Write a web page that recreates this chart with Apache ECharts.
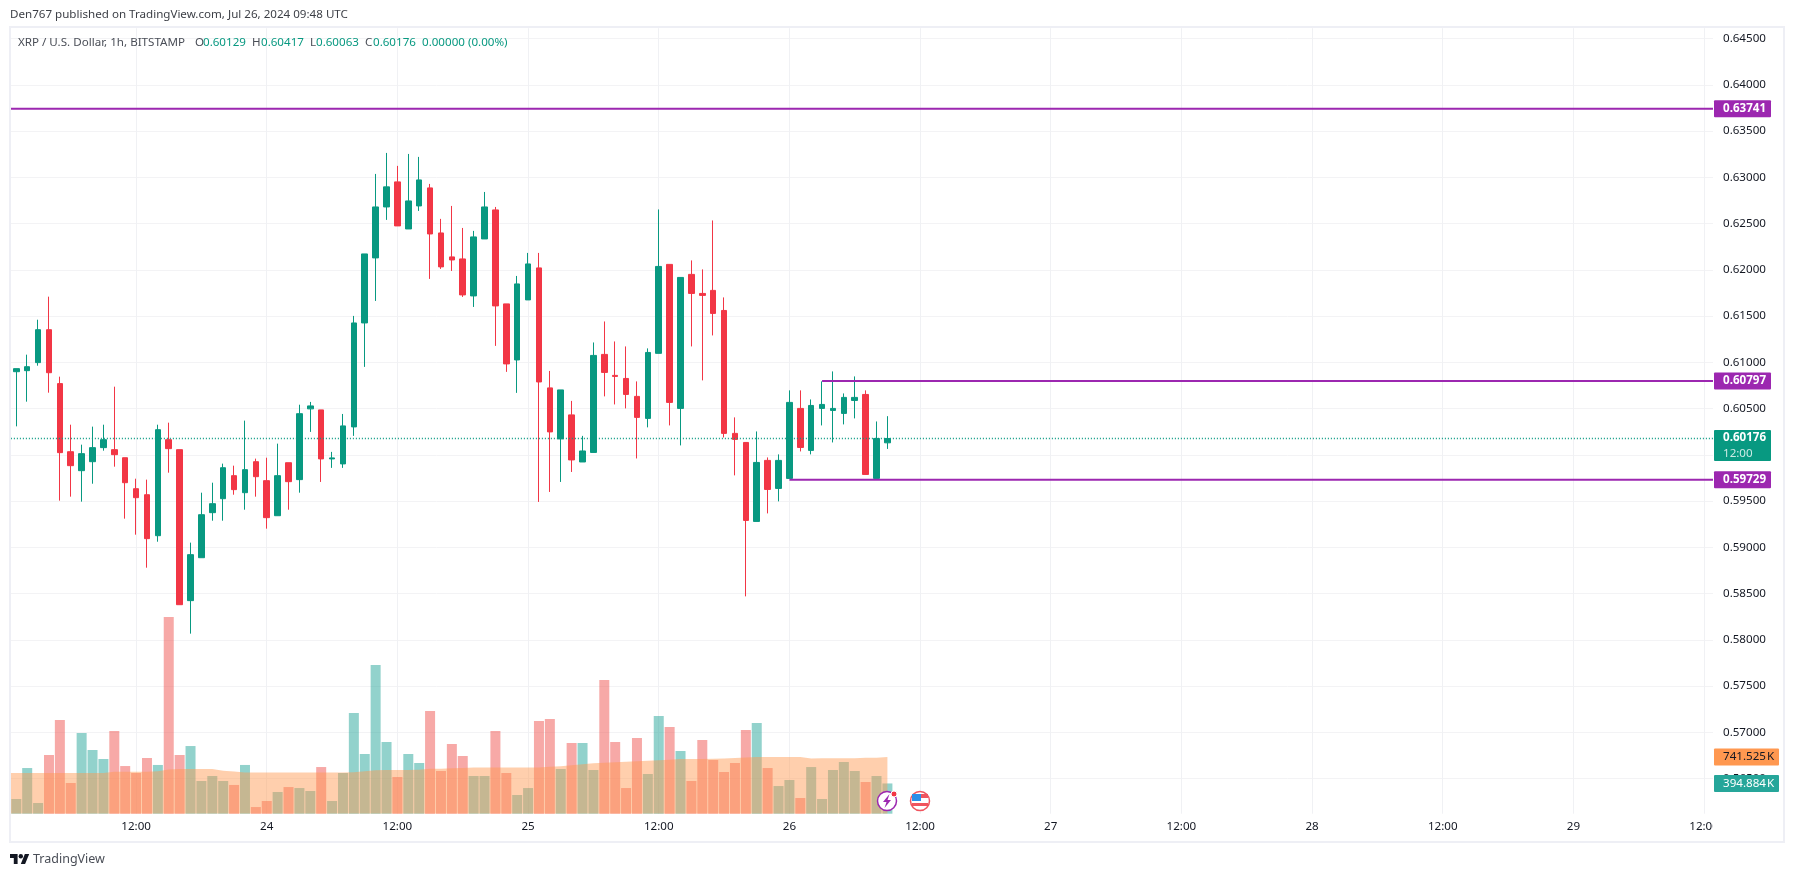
<!DOCTYPE html>
<html>
<head>
<meta charset="utf-8">
<title>XRP / U.S. Dollar</title>
<script src="https://cdn.jsdelivr.net/npm/echarts@6/dist/echarts.min.js"></script>
<style>
html,body{margin:0;padding:0;background:#fff;}
#main{width:1794px;height:877px;}
</style>
</head>
<body>
<div id="main"></div>
<script>
// hourly candles, bar 0 is Jul 23 01:00, bar 80 is Jul 26 09:00
var open_ = [0.60898,0.60909,0.60996,0.61352,0.60769,0.60033,0.59828,0.59925,0.60077,0.60055,0.59968,0.59633,0.59568,0.59125,0.60163,0.60055,0.58423,0.58887,0.59374,0.59525,0.59774,0.59590,0.59925,0.59720,0.59341,0.59914,0.59731,
  0.60496,0.60485,0.59955,0.59901,0.60301,0.61425,0.62128,0.62679,0.62950,0.62441,0.62690,0.62885,0.62398,0.62139,0.62117,0.61717,0.62333,0.62647,0.61631,0.61025,0.61674,0.62020,0.60723,0.60171,0.60431,0.59922,
  0.60025,0.61085,0.60858,0.60825,0.60631,0.60393,0.61096,0.62058,0.60501,0.61950,0.61744,0.61777,0.61560,0.60231,0.60133,0.59279,0.59939,0.59636,0.59744,0.60501,0.60047,0.60501,0.60479,0.60447,0.60587,0.60652,0.59744,0.60129];
var close_ = [0.60931,0.60952,0.61352,0.60887,0.60023,0.59882,0.60012,0.60077,0.60163,0.60001,0.59698,0.59536,0.59093,0.60271,0.60066,0.58379,0.58920,0.59352,0.59471,0.59860,0.59623,0.59839,0.59763,0.59320,0.59774,0.59709,0.60444,
  0.60528,0.59955,0.59966,0.60312,0.61425,0.62171,0.62679,0.62896,0.62474,0.62744,0.62971,0.62387,0.62031,0.62106,0.61728,0.62355,0.62679,0.61609,0.60982,0.61847,0.62063,0.60787,0.60247,0.60701,0.59944,0.60041,
  0.61074,0.60890,0.60847,0.60652,0.60404,0.61106,0.62036,0.60566,0.61917,0.61744,0.61723,0.61528,0.60231,0.60166,0.59290,0.59917,0.59625,0.59939,0.60566,0.60079,0.60533,0.60544,0.60501,0.60620,0.60620,0.59787,0.60176,0.60176];
var low_ = [0.60307,0.60574,0.60963,0.60671,0.59504,0.59547,0.59493,0.59687,0.60044,0.59871,0.59309,0.59136,0.58779,0.59060,0.59806,0.58379,0.58066,0.58887,0.59287,0.59287,0.59568,0.59406,0.59547,0.59201,0.59341,0.59406,0.59590,
  0.60247,0.59706,0.59858,0.59858,0.60204,0.60950,0.61663,0.62539,0.62474,0.62441,0.62636,0.61901,0.62009,0.61987,0.61706,0.61598,0.62333,0.61177,0.60896,0.60669,0.61674,0.59490,0.59598,0.59706,0.59814,0.59922,
  0.60025,0.60631,0.60544,0.60501,0.59960,0.60296,0.61096,0.60317,0.60101,0.61171,0.60804,0.61290,0.60187,0.59777,0.58469,0.59279,0.59366,0.59496,0.59744,0.60036,0.60004,0.60317,0.60133,0.60328,0.60393,0.59787,0.59744,0.60063];
var high_ = [0.60931,0.61082,0.61460,0.61709,0.60844,0.60325,0.60109,0.60304,0.60325,0.60736,0.59968,0.59741,0.59731,0.60325,0.60347,0.60055,0.59050,0.59590,0.59698,0.59904,0.59882,0.60369,0.59958,0.59968,0.60120,0.59914,0.60541,
  0.60571,0.60485,0.60031,0.60441,0.61501,0.62171,0.63036,0.63263,0.63123,0.63252,0.63220,0.62928,0.62550,0.62690,0.62452,0.62420,0.62841,0.62679,0.61631,0.61933,0.62182,0.62182,0.60906,0.60701,0.60582,0.60204,
  0.61214,0.61441,0.61225,0.61171,0.60793,0.61150,0.62652,0.62058,0.61917,0.62101,0.62004,0.62533,0.61701,0.60404,0.60133,0.60252,0.59971,0.60004,0.60696,0.60696,0.60598,0.60793,0.60901,0.60663,0.60847,0.60696,0.60360,0.60417];
// volume in thousands
var volume = [192,596,140,766,1223,401,1053,831,714,1079,622,531,727,636,2567,766,883,427,492,427,375,636,87,166,283,348,335,296,609,166,531,1314,779,1941,936,479,779,662,1340,557,
  910,753,492,492,1079,531,244,335,1210,1236,583,923,923,570,1745,936,335,988,518,1275,1131,818,427,962,701,544,662,1092,1184,596,361,440,205,609,192,570,675,557,414,492,394.884];
// volume moving average, starts one bar before the first visible candle
var volumeMa = [531,531,531,531,531,531,531,531,531,531,548,548,548,548,555,578,583,583,583,583,561,552,539,539,539,539,539,539,539,539,539,539,542,555,568,570,570,570,574,587,587,592,596,
  603,603,603,603,603,603,603,613,620,633,646,659,666,672,679,685,692,696,705,714,714,714,718,722,727,735,740,740,740,740,740,722,724,724,724,724,731,731,741.525];
var priceTicks = [0.565,0.57,0.575,0.58,0.585,0.59,0.595,0.6,0.605,0.61,0.615,0.62,0.625,0.63,0.635,0.64,0.645];
var timeTicks = [11,23,35,47,59,71,83,95,107,119,131,143,155];
var timeLabels = ['12:00','24','12:00','25','12:00','26','12:00','27','12:00','28','12:00','29','12:00'];
var lastPrice = 0.60176, lastTime = '12:00';
var levelHigh = 0.63741, levelMid = 0.60797, levelLow = 0.59729;
var levelMidStart = 74, levelLowStart = 71;
var lastVolume = 394.884, lastVolumeMa = 741.525;

var xMin = -0.5, xMax = 155.82;
var upColor = '#089981', downColor = '#f23645', levelColor = '#9c27b0';
var fontName = '"Noto Sans", sans-serif';
var fontSize = 11.6;

var candles = open_.map(function(o, i){ return [i, o, close_[i], low_[i], high_[i]]; });
var volumeBars = volume.map(function(v, i){
  return {
    value: [i, v],
    itemStyle: { color: close_[i] >= open_[i] ? 'rgba(38,166,154,0.5)' : 'rgba(239,83,80,0.5)' }
  };
});
var maLine = volumeMa.map(function(v, i){ return [i - 1, v]; });

function tag(y, text, bg, color, bold, width){
  return {
    coord: [xMax, y],
    symbol: 'rect',
    symbolSize: 0,
    label: {
      show: true, position: 'right', distance: 1, formatter: text,
      backgroundColor: bg, color: color, fontFamily: fontName,
      fontSize: fontSize, fontWeight: bold ? 'bold' : 'normal',
      width: width, height: 17, lineHeight: 17, padding: [0, 0, 0, 9],
      borderRadius: 1
    }
  };
}

function level(name, start, value, labelText){
  return {
    name: name, type: 'line', symbol: 'none', silent: true, z: 6,
    data: [[start, value], [xMax, value]],
    lineStyle: { color: levelColor, width: 2 },
    markPoint: { silent: true, data: [tag(value, labelText, levelColor, '#fff', true, 48)] }
  };
}

var option = {
  animation: false,
  backgroundColor: '#fff',
  grid: { left: 10.86, top: 28.2, width: 1702.14, height: 785.5 },
  xAxis: {
    type: 'value', min: xMin, max: xMax,
    axisLine: { show: false },
    axisTick: { show: false, customValues: timeTicks },
    axisLabel: {
      customValues: timeTicks, color: '#131722', fontFamily: fontName, fontSize: fontSize, margin: 7,
      formatter: function(v){ return timeLabels[timeTicks.indexOf(v)]; }
    },
    splitLine: { show: true, lineStyle: { color: '#f0f1f4', width: 1 } }
  },
  yAxis: [
    {
      type: 'value', position: 'right', min: 0.561195, max: 0.646114, scale: true,
      axisLine: { show: false },
      axisTick: { show: false, customValues: priceTicks },
      axisLabel: {
        customValues: priceTicks, color: '#131722', fontFamily: fontName, fontSize: fontSize, margin: 10,
        formatter: function(v){ return v.toFixed(5); }
      },
      splitLine: { show: true, lineStyle: { color: '#f3f3f5', width: 1 } }
    },
    { type: 'value', min: 0, max: 10251, show: false, splitLine: { show: false } }
  ],
  series: [
    {
      name: 'Volume', type: 'bar', yAxisIndex: 1, barWidth: 10, z: 2,
      data: volumeBars,
      markPoint: { silent: true, z: 9, data: [tag(lastVolume, lastVolume.toFixed(3) + '\u200aK', '#26a69a', '#fff', false, 56)] }
    },
    {
      name: 'Volume MA', type: 'line', yAxisIndex: 1, symbol: 'none', z: 3,
      data: maLine,
      lineStyle: { width: 0 },
      areaStyle: { color: 'rgba(255,152,80,0.47)', opacity: 1, origin: 'start' },
      markPoint: { silent: true, z: 9, data: [tag(lastVolumeMa, lastVolumeMa.toFixed(3) + '\u200aK', '#ff9850', '#131722', false, 56)] }
    },
    {
      name: 'XRPUSD', type: 'candlestick', z: 4, barWidth: 6,
      encode: { x: 0, y: [1, 2, 3, 4] },
      data: candles,
      itemStyle: { color: upColor, color0: downColor, borderColor: upColor, borderColor0: downColor, borderWidth: 1 }
    },
    {
      name: 'Last', type: 'line', symbol: 'none', z: 5,
      data: [[xMin, lastPrice], [xMax, lastPrice]],
      lineStyle: { color: upColor, width: 1.4, type: [1, 2] },
      markPoint: { silent: true, z: 9, data: [{
        coord: [xMax, lastPrice], symbol: 'rect', symbolSize: 0,
        label: { show: true, position: 'right', distance: 1, offset: [0, 7],
          formatter: '{a|' + lastPrice.toFixed(5) + '}\n{b|' + lastTime + '}',
          backgroundColor: upColor, width: 48, height: 31, padding: [0, 0, 0, 9], borderRadius: 1,
          rich: {
            a: { color: '#fff', fontFamily: fontName, fontSize: fontSize, fontWeight: 'bold', lineHeight: 16 },
            b: { color: '#cdeae5', fontFamily: fontName, fontSize: fontSize, lineHeight: 15 }
          } }
      }] }
    },
    level('Resistance', xMin, levelHigh, levelHigh.toFixed(5)),
    level('Range high', levelMidStart, levelMid, levelMid.toFixed(5)),
    level('Range low', levelLowStart, levelLow, levelLow.toFixed(5))
  ],
  graphic: []
};

var legendParts = [
  ['XRP / U.S. Dollar, 1h, BITSTAMP', 18, '#4a4e57'],
  ['O', 195, '#4a4e57'], ['0.60129', 203, upColor],
  ['H', 252, '#4a4e57'], ['0.60417', 261, upColor],
  ['L', 310, '#4a4e57'], ['0.60063', 316, upColor],
  ['C', 365, '#4a4e57'], ['0.60176', 373, upColor],
  ['0.00000 (0.00%)', 422, upColor]
];
legendParts.forEach(function(p){
  option.graphic.push({ type: 'text', x: p[1], y: 42.5, z: 20,
    style: { text: p[0], fill: p[2], font: fontSize + 'px ' + fontName, textVerticalAlign: 'middle' } });
});

option.graphic.push(
  { type: 'text', x: 10, y: 15, z: 20,
    style: { text: 'Den767 published on TradingView.com, Jul 26, 2024 09:48 UTC', fill: '#3c3f46', font: fontSize + 'px ' + fontName, textVerticalAlign: 'middle' } },
  // hides the end of the last time label under the price scale
  { type: 'rect', z: 15, shape: { x: 1713, y: 815, width: 70, height: 26 }, style: { fill: '#fff' } },
  // chart frame
  { type: 'rect', z: 16, shape: { x: 10, y: 27, width: 1774, height: 815 }, style: { fill: 'none', stroke: '#eeeff5', lineWidth: 2 } },
  // logo
  { type: 'polygon', z: 20, shape: { points: [[10,854],[17.6,854],[17.6,864],[13.8,864],[13.8,858],[10,858]] }, style: { fill: '#131722' } },
  { type: 'polygon', z: 20, shape: { points: [[25.1,864],[20.8,864],[24.85,854],[29.2,854]] }, style: { fill: '#131722' } },
  { type: 'circle', z: 20, shape: { cx: 20.8, cy: 856.2, r: 2.2 }, style: { fill: '#131722' } },
  { type: 'text', x: 33, y: 859.5, z: 20, style: { text: 'TradingView', fill: '#4a4e57', font: '12.5px ' + fontName, textVerticalAlign: 'middle' } },
  // event icons on the time scale
  { type: 'circle', z: 20, shape: { cx: 887, cy: 801, r: 9.5 }, style: { fill: '#fff', stroke: levelColor, lineWidth: 1.5 } },
  { type: 'polygon', z: 21, shape: { points: [[889.5,794],[883,802],[886.5,802],[884.5,808],[891,800],[887.5,800]] }, style: { fill: levelColor } },
  { type: 'circle', z: 21, shape: { cx: 894, cy: 794, r: 3 }, style: { fill: downColor, stroke: '#fff', lineWidth: 1 } },
  { type: 'circle', z: 20, shape: { cx: 920, cy: 801, r: 9.5 }, style: { fill: '#fff', stroke: '#f0545e', lineWidth: 1.5 } },
  { type: 'rect', z: 21, shape: { x: 912, y: 794, width: 16, height: 4 }, style: { fill: '#f0545e' } },
  { type: 'rect', z: 21, shape: { x: 912, y: 803, width: 16, height: 3 }, style: { fill: '#f0545e' } },
  { type: 'rect', z: 22, shape: { x: 912, y: 794, width: 9, height: 7 }, style: { fill: '#2b8fe8' } }
);

var chart = echarts.init(document.getElementById('main'));
chart.setOption(option);
</script>
</body>
</html>
